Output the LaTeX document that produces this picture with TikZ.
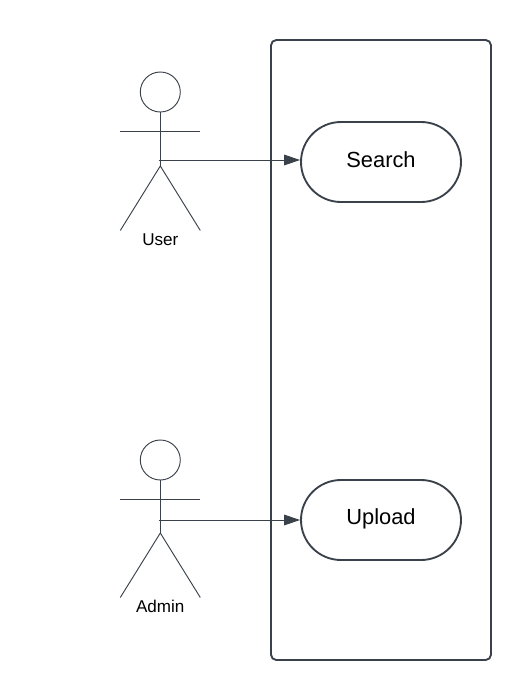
\documentclass[tikz,border=0pt]{standalone}
\usepackage{fontspec}
\setmainfont{Liberation Sans}
\usetikzlibrary{shapes.misc,arrows.meta}
\definecolor{linegray}{HTML}{3A414A}
\tikzset{
	stick/.style={draw=linegray,line width=0.7pt},
	usecase/.style={draw=linegray,line width=1.4pt,rounded rectangle,minimum width=120pt,minimum height=60pt,inner sep=0pt,text height=12pt,font=\fontsize{16.4}{18}\selectfont},
	actorlabel/.style={inner sep=0pt,font=\fontsize{12.8}{14}\selectfont},
	link/.style={draw=linegray,line width=0.7pt,-{Triangle[length=12pt,width=8pt]}}
}
\begin{document}
\begin{tikzpicture}[x=0.75pt,y=-0.75pt]
       \useasboundingbox (0,0) rectangle (531,700);
       \fill[white] (0,0) rectangle (531,700);
       
       %system box
       \node (system) at (381,350) [draw=linegray,line width=1.4pt,rounded corners=4pt,minimum width=165pt,minimum height=465pt,inner sep=0pt] {};
       
       %actors
       \foreach \y/\name/\txt/\dy in {92/user/User/0,460/admin/Admin/-1}  {
       	\node (\name head) at (160.3,\y) [circle,stick,minimum size=30pt,inner sep=0pt] {};
       	\draw[stick] (\name head.south) -- (160.3,\y+74+\dy);
       	\draw[stick] (120.3,\y+39.5) -- (200.3,\y+39.5);
       	\draw[stick] (120.3,\y+138.5+\dy) -- (160.3,\y+74+\dy) -- (200.3,\y+138.5+\dy);
       	\node (\name) at (160.3,\y+147.5+\dy) [actorlabel] {\txt};
       }
       
       \node (search) at (381,162) [usecase,text depth=3.4pt] {Search};
       \node (upload) at (381,520) [usecase,text depth=5.6pt] {Upload};
       
       \coordinate (userhand) at (158.5,160);
       \coordinate (adminhand) at (158.5,520);
       \draw[link] (userhand) -- (userhand -| search.west);
       \draw[link] (adminhand) -- (adminhand -| upload.west);
       
\end{tikzpicture}
\end{document}
